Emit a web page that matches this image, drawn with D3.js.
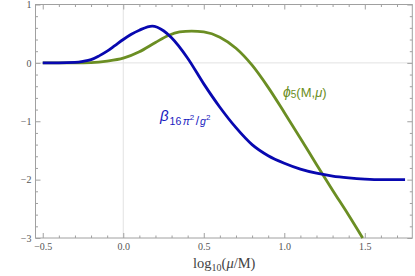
<!DOCTYPE html>
<html lang="en">
<head>
    <meta charset="utf-8">
    <title>beta and phi5 vs log10(mu/M)</title>
    <style type="text/css">
        body {
            margin: 0;
            background: #ffffff;
        }
        .frame {
            fill: none;
            stroke: #a0a0a0;
            stroke-width: 1px;
        }
        .axis path {
            display: none;
        }
        .axis line {
            stroke: #a0a0a0;
        }
        .axis text {
            font-family: 'Liberation Serif', serif;
            font-size: 10px;
            fill: #555555;
        }
        .grid {
            stroke: #e2e2e2;
            stroke-width: 1px;
        }
        .curve {
            fill: none;
            stroke-width: 2.8px;
            stroke-linejoin: round;
        }
        .curveLabel {
            font-family: 'Liberation Sans', Arial, sans-serif;
        }
        .axisTitle {
            font-family: 'Liberation Serif', serif;
            font-size: 14.5px;
            fill: #444444;
        }
    </style>
</head>
<body>
<script src="https://cdn.jsdelivr.net/npm/d3@7"></script>
<script>
    // values
    let xTicks = [-0.5, 0.0, 0.5, 1.0, 1.5];
    let yTicks = [-3, -2, -1, 0, 1];

    let betaX = [-0.5, -0.4, -0.3, -0.25, -0.2, -0.15, -0.1, -0.05, 0.0, 0.05, 0.1, 0.18, 0.25, 0.3,
        0.4, 0.5, 0.6, 0.7, 0.8, 0.9, 1.0, 1.1, 1.2, 1.3, 1.4, 1.5, 1.6, 1.75];
    let betaY = [0.0, 0.0, 0.008, 0.025, 0.055, 0.12, 0.20, 0.30, 0.40, 0.49, 0.56, 0.63, 0.55, 0.43,
        0.08, -0.36, -0.76, -1.11, -1.40, -1.59, -1.72, -1.82, -1.89, -1.94, -1.97, -1.99, -2.0, -2.0];

    let phiX = [-0.5, -0.4, -0.3, -0.2, -0.1, 0.0, 0.1, 0.2, 0.28, 0.35, 0.425, 0.5, 0.6, 0.7,
        0.8, 0.9, 1.0, 1.1, 1.2, 1.3, 1.4, 1.487];
    let phiY = [0.0, 0.0, 0.0, 0.005, 0.03, 0.08, 0.19, 0.35, 0.47, 0.53, 0.545, 0.53, 0.44, 0.25,
        -0.04, -0.42, -0.85, -1.29, -1.74, -2.18, -2.61, -3.0];

    let margin = {top: 4.5, right: 2.7, bottom: 38, left: 35.5},
        width = 415 - margin.left - margin.right,
        height = 276 - margin.top - margin.bottom;

    let svg = d3.select("body").append("svg")
        .attr("width", 415)
        .attr("height", 276)
        .append("g")
        .attr("transform", "translate(" + margin.left + "," + margin.top + ")");

    let x = d3.scaleLinear().domain([-0.545, 1.795]).range([0, width]);
    let y = d3.scaleLinear().domain([-3, 1]).range([height, 0]);

    // light grid lines through the origin
    svg.append("line").attr("class", "grid")
        .attr("x1", x(0)).attr("x2", x(0)).attr("y1", 0).attr("y2", height);
    svg.append("line").attr("class", "grid")
        .attr("x1", 0).attr("x2", width).attr("y1", y(0)).attr("y2", y(0));

    // minor ticks
    let xMinor = d3.range(-0.5, 1.75, 0.1).filter(function(v) {
        return Math.abs(v * 2 - Math.round(v * 2)) > 1e-6;
    });
    let yMinor = d3.range(-3, 1, 0.2).filter(function(v) {
        return Math.abs(v - Math.round(v)) > 1e-6;
    });

    svg.append("g").attr("class", "axis")
        .attr("transform", "translate(0," + height + ")")
        .call(d3.axisBottom(x).tickValues(xTicks).tickSize(-5).tickPadding(5).tickFormat(d3.format(".1f")));
    svg.append("g").attr("class", "axis")
        .attr("transform", "translate(0," + height + ")")
        .call(d3.axisBottom(x).tickValues(xMinor).tickSize(-2.5).tickFormat(""));
    svg.append("g").attr("class", "axis")
        .call(d3.axisTop(x).tickValues(xTicks).tickSize(-5).tickFormat(""));
    svg.append("g").attr("class", "axis")
        .call(d3.axisTop(x).tickValues(xMinor).tickSize(-2.5).tickFormat(""));

    svg.append("g").attr("class", "axis")
        .call(d3.axisLeft(y).tickValues(yTicks).tickSize(-5).tickPadding(4).tickFormat(d3.format("d")));
    svg.append("g").attr("class", "axis")
        .call(d3.axisLeft(y).tickValues(yMinor).tickSize(-2.5).tickFormat(""));
    svg.append("g").attr("class", "axis")
        .attr("transform", "translate(" + width + ",0)")
        .call(d3.axisRight(y).tickValues(yTicks).tickSize(-5).tickFormat(""));
    svg.append("g").attr("class", "axis")
        .attr("transform", "translate(" + width + ",0)")
        .call(d3.axisRight(y).tickValues(yMinor).tickSize(-2.5).tickFormat(""));

    svg.append("rect").attr("class", "frame")
        .attr("x", 0).attr("y", 0).attr("width", width).attr("height", height);

    let line = d3.line()
        .x(function(d) { return x(d[0]); })
        .y(function(d) { return y(d[1]); })
        .curve(d3.curveMonotoneX);

    let plot = svg.append("g");

    plot.append("path")
        .datum(d3.zip(phiX, phiY))
        .attr("class", "curve")
        .attr("stroke", "#6b8e23")
        .attr("d", line);

    plot.append("path")
        .datum(d3.zip(betaX, betaY))
        .attr("class", "curve")
        .attr("stroke", "#0808b0")
        .attr("d", line);

    // curve labels
    let beta = svg.append("text")
        .attr("class", "curveLabel")
        .attr("x", 160 - margin.left)
        .attr("y", 120.5 - margin.top)
        .attr("fill", "#1a1ac0");
    beta.append("tspan").style("font-size", "15px").style("font-style", "italic").text("β");
    beta.append("tspan").attr("dy", 4).attr("dx", 1).style("font-size", "10.5px").text("16");
    beta.append("tspan").attr("dx", 1.5).style("font-size", "10.5px").style("font-style", "italic").text("π");
    beta.append("tspan").attr("dy", -4.5).style("font-size", "8px").text("2");
    beta.append("tspan").attr("dy", 4.5).attr("dx", 1.5).style("font-size", "12px").text("/");
    beta.append("tspan").attr("dx", 1).style("font-size", "10.5px").style("font-style", "italic").text("g");
    beta.append("tspan").attr("dy", -4.5).style("font-size", "8px").text("2");

    let phi = svg.append("text")
        .attr("class", "curveLabel")
        .attr("x", 283 - margin.left)
        .attr("y", 96.5 - margin.top)
        .attr("fill", "#6b8e23");
    phi.append("tspan").style("font-size", "14px").style("font-style", "italic").text("ϕ");
    phi.append("tspan").attr("dy", 1.5).style("font-size", "10px").text("5");
    phi.append("tspan").attr("dy", -1.5).style("font-size", "13px").text("(M,");
    phi.append("tspan").style("font-size", "13px").style("font-style", "italic").text("μ");
    phi.append("tspan").style("font-size", "13px").text(")");

    // x axis title
    let title = svg.append("text")
        .attr("class", "axisTitle")
        .attr("x", 193 - margin.left)
        .attr("y", 268 - margin.top);
    title.append("tspan").text("log");
    title.append("tspan").attr("dy", 3).style("font-size", "10px").text("10");
    title.append("tspan").attr("dy", -3).text("(");
    title.append("tspan").style("font-style", "italic").text("μ");
    title.append("tspan").text("/M)");
</script>
</body>
</html>
